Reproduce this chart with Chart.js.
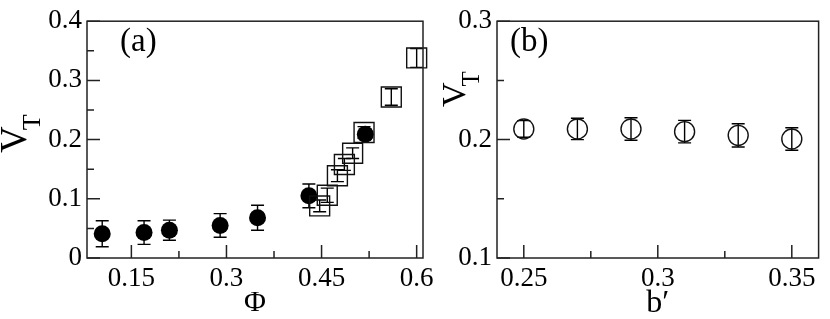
<!DOCTYPE html>
<html>
<head>
<meta charset="utf-8">
<script src="https://cdn.jsdelivr.net/npm/chart.js@4.4.0/dist/chart.umd.min.js"></script>
<style>
    html, body { margin: 0; padding: 0; background: #fff; }
    #wrap { position: relative; width: 830px; height: 319px; }
    #wrap canvas { position: absolute; left: 0; top: 0; }
</style>
</head>
<body>
<div id="wrap">
    <canvas id="chartA" width="830" height="319"></canvas>
    <canvas id="chartB" width="830" height="319"></canvas>
</div>
<script>
// Panel (a): V_T against Phi
const phiFilled = [0.104, 0.17, 0.21, 0.29, 0.349, 0.43, 0.519];
const vtFilled = [0.041, 0.043, 0.047, 0.055, 0.068, 0.105, 0.209];
const vtFilledErr = [0.022, 0.02, 0.017, 0.02, 0.021, 0.02, 0.008];

const phiOpen = [0.447, 0.459, 0.475, 0.486, 0.499, 0.517, 0.56, 0.6];
const vtOpen = [0.088, 0.106, 0.139, 0.158, 0.177, 0.212, 0.272, 0.338];
const vtOpenErr = [0.01, 0.012, 0.01, 0.01, 0.009, 0.01, 0.014, 0.016];

const phiTicks = [0.15, 0.3, 0.45, 0.6];
const phiMinor = [0.225, 0.375, 0.525];
const vtTicksA = [0, 0.1, 0.2, 0.3, 0.4];
const vtMinorA = [0.05, 0.15, 0.25, 0.35];

// Panel (b): V_T against b'
const bPrime = [0.25, 0.27, 0.29, 0.31, 0.33, 0.35];
const vtB = [0.209, 0.209, 0.209, 0.2067, 0.2036, 0.2005];
const vtBErr = [0.007, 0.009, 0.0095, 0.0095, 0.0098, 0.0095];

const bTicks = [0.25, 0.3, 0.35];
const bMinor = [0.275, 0.325];
const vtTicksB = [0.1, 0.2, 0.3];
const vtMinorB = [0.15, 0.25];

const SERIF = 'Liberation Serif';
const INK = '#000';

function toPoints(xs, ys) {
    return xs.map((x, i) => ({ x: x, y: ys[i] }));
}

// Draw V with subscript T, rotated to read upwards
function drawVT(ctx, x, y, vSize, tSize, tShift) {
    ctx.save();
    ctx.translate(x, y);
    ctx.rotate(-Math.PI / 2);
    ctx.fillStyle = INK;
    ctx.textAlign = 'left';
    ctx.textBaseline = 'alphabetic';
    ctx.font = vSize + 'px "' + SERIF + '"';
    ctx.fillText('V', 0, 0);
    const w = ctx.measureText('V').width;
    ctx.font = tSize + 'px "' + SERIF + '"';
    ctx.fillText('T', w - 4, tShift);
    ctx.restore();
}

// Error bars, frame, inward ticks and labels
const framePlugin = {
    id: 'frame',
    beforeDatasetsDraw(chart) {
        const ctx = chart.ctx;
        const xs = chart.scales.x, ys = chart.scales.y;
        ctx.save();
        ctx.strokeStyle = INK;
        ctx.lineWidth = 1.4;
        chart.data.datasets.forEach(ds => {
            if (!ds.errY) return;
            ds.data.forEach((p, i) => {
                const px = xs.getPixelForValue(p.x);
                const top = ys.getPixelForValue(p.y + ds.errY[i]);
                const bot = ys.getPixelForValue(p.y - ds.errY[i]);
                ctx.beginPath();
                ctx.moveTo(px, top); ctx.lineTo(px, bot);
                ctx.moveTo(px - 6.5, top); ctx.lineTo(px + 6.5, top);
                ctx.moveTo(px - 6.5, bot); ctx.lineTo(px + 6.5, bot);
                ctx.stroke();
            });
        });
        ctx.restore();
    },
    afterDraw(chart, args, opts) {
        const ctx = chart.ctx;
        const a = chart.chartArea;
        const xs = chart.scales.x, ys = chart.scales.y;
        ctx.save();
        ctx.strokeStyle = '#222';
        ctx.lineWidth = 1.5;
        ctx.strokeRect(a.left, a.top, a.right - a.left, a.bottom - a.top);

        ctx.beginPath();
        opts.xMajor.forEach(v => {
            const p = xs.getPixelForValue(v);
            ctx.moveTo(p, a.bottom); ctx.lineTo(p, a.bottom - 13);
        });
        opts.xMinor.forEach(v => {
            const p = xs.getPixelForValue(v);
            ctx.moveTo(p, a.bottom); ctx.lineTo(p, a.bottom - 7);
        });
        opts.yMajor.forEach(v => {
            const p = ys.getPixelForValue(v);
            ctx.moveTo(a.left, p); ctx.lineTo(a.left + 13, p);
        });
        opts.yMinor.forEach(v => {
            const p = ys.getPixelForValue(v);
            ctx.moveTo(a.left, p); ctx.lineTo(a.left + 7, p);
        });
        ctx.stroke();

        ctx.fillStyle = INK;
        ctx.textBaseline = 'alphabetic';
        ctx.textAlign = 'left';
        ctx.font = '33px "' + SERIF + '"';
        ctx.fillText(opts.panel, opts.panelX, opts.panelY);

        ctx.textAlign = 'center';
        ctx.font = opts.xTitleSize + 'px "' + SERIF + '"';
        ctx.fillText(opts.xTitle, (a.left + a.right) / 2, opts.xTitleY);

        drawVT(ctx, opts.vtX, opts.vtY, opts.vSize, opts.tSize, 14);
        ctx.restore();
    }
};

function axisOptions(min, max, ticks, side) {
    const o = {
        type: 'linear',
        min: min,
        max: max,
        grid: { display: false, drawTicks: false },
        border: { display: false },
        ticks: {
            color: INK,
            font: { family: SERIF, size: 27 },
            padding: 5,
            callback: v => String(v)
        },
        afterBuildTicks: s => { s.ticks = ticks.map(v => ({ value: v })); }
    };
    if (side === 'x') {
        o.afterFit = s => { s.height = 61; };
    }
    return o;
}

Chart.defaults.animation = false;
Chart.defaults.devicePixelRatio = 1;
Chart.defaults.font.family = SERIF;
Chart.defaults.font.size = 27;
Chart.defaults.color = INK;

new Chart(document.getElementById('chartA'), {
    type: 'scatter',
    data: {
        datasets: [
            {
                data: toPoints(phiOpen, vtOpen),
                errY: vtOpenErr,
                pointStyle: 'rect',
                pointRadius: 14.1,
                backgroundColor: 'rgba(0,0,0,0)',
                borderColor: '#111',
                pointBorderWidth: 1.4,
                clip: false
            },
            {
                data: toPoints(phiFilled, vtFilled),
                errY: vtFilledErr,
                pointStyle: 'circle',
                pointRadius: 8.5,
                backgroundColor: INK,
                borderColor: INK,
                pointBorderWidth: 0,
                clip: false
            }
        ]
    },
    options: {
        responsive: false,
        events: [],
        layout: { padding: { top: 10, right: 407, left: 0, bottom: 0 } },
        plugins: {
            legend: { display: false },
            tooltip: { enabled: false },
            frame: {
                xMajor: phiTicks, xMinor: phiMinor,
                yMajor: vtTicksA, yMinor: vtMinorA,
                panel: '(a)', panelX: 120, panelY: 51,
                xTitle: '\u03A6', xTitleSize: 30, xTitleY: 311,
                vtX: 25.5, vtY: 153, vSize: 37, tSize: 26
            }
        },
        scales: {
            x: axisOptions(0.08, 0.61, phiTicks, 'x'),
            y: Object.assign(axisOptions(0, 0.4, vtTicksA, 'y'), {
                afterFit: s => { s.width = 87; }
            })
        }
    },
    plugins: [framePlugin]
});

new Chart(document.getElementById('chartB'), {
    type: 'scatter',
    data: {
        datasets: [
            {
                data: toPoints(bPrime, vtB),
                errY: vtBErr,
                pointStyle: 'circle',
                pointRadius: 10,
                backgroundColor: 'rgba(0,0,0,0)',
                borderColor: '#111',
                pointBorderWidth: 1.4,
                clip: false
            }
        ]
    },
    options: {
        responsive: false,
        events: [],
        layout: { padding: { top: 10, right: 1, left: 0, bottom: 0 } },
        plugins: {
            legend: { display: false },
            tooltip: { enabled: false },
            frame: {
                xMajor: bTicks, xMinor: bMinor,
                yMajor: vtTicksB, yMinor: vtMinorB,
                panel: '(b)', panelX: 510, panelY: 51,
                xTitle: 'b\u2032', xTitleSize: 32, xTitleY: 312,
                vtX: 465, vtY: 107, vSize: 34, tSize: 25
            }
        },
        scales: {
            x: axisOptions(0.24, 0.36, bTicks, 'x'),
            y: Object.assign(axisOptions(0.1, 0.3, vtTicksB, 'y'), {
                afterFit: s => { s.width = 497; }
            })
        }
    },
    plugins: [framePlugin]
});
</script>
</body>
</html>
